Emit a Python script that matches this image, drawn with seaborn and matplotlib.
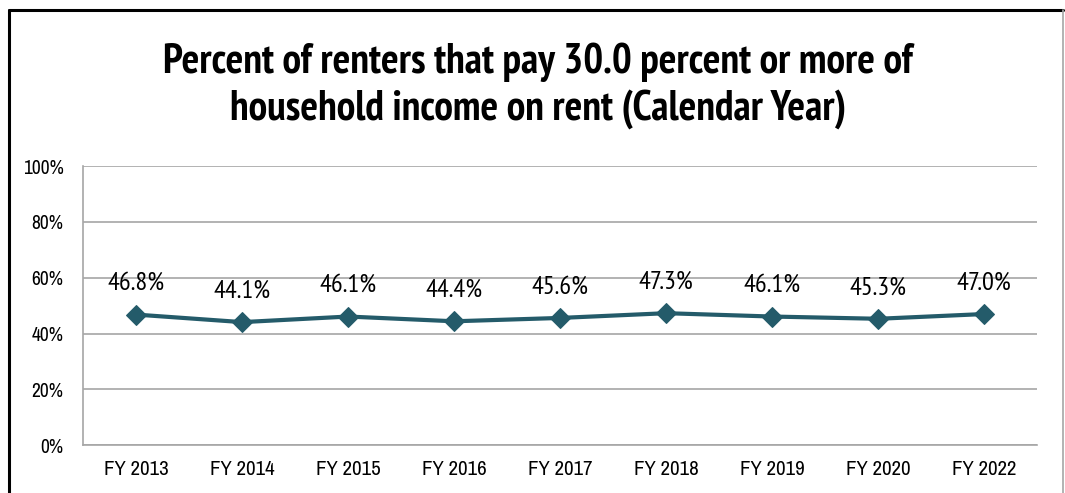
import matplotlib
matplotlib.use('Agg')
import matplotlib.pyplot as plt
import matplotlib.ticker as mtick
from matplotlib import font_manager as fm
from matplotlib.lines import Line2D
import pandas as pd
import seaborn as sns

years = ['FY 2013', 'FY 2014', 'FY 2015', 'FY 2016', 'FY 2017',
         'FY 2018', 'FY 2019', 'FY 2020', 'FY 2022']
pct = [46.8, 44.1, 46.1, 44.4, 45.6, 47.3, 46.1, 45.3, 47.0]

df = pd.DataFrame({'year': years, 'pct': pct})

installed = {f.name for f in fm.fontManager.ttflist}


def pick(cands, fallback='Liberation Sans'):
    for c in cands:
        if c in installed:
            return c
    return fallback


title_font = pick(['PT Sans Narrow', 'Fira Sans Condensed', 'Roboto Condensed',
                   'Open Sans Condensed', 'Asap Condensed', 'Archivo Narrow'])
label_font = pick(['PT Sans Narrow', 'Fira Sans Condensed', 'Roboto Condensed',
                   'Asap Condensed', 'Archivo Narrow'])
tick_font = pick(['Liberation Sans Narrow', 'Archivo Narrow', 'Roboto Condensed',
                  'PT Sans Narrow', 'Asap Condensed'])

sns.set_style('white')
plt.rcParams['font.family'] = [tick_font, 'DejaVu Sans']
plt.rcParams['text.color'] = 'black'

fig = plt.figure(figsize=(10.65, 4.93), dpi=100)
ax = fig.add_axes([0.078, 0.097, 0.896, 0.566])

sns.lineplot(data=df, x='year', y='pct', ax=ax, color='#245B6A', linewidth=3,
             marker='D', markersize=10, markeredgecolor='#245B6A', sort=False)

for i, v in enumerate(pct):
    ax.annotate(f'{v:.1f}%', (i, v), xytext=(0, 14), textcoords='offset points',
                ha='center', va='bottom', fontsize=19, color='black',
                family=[label_font, 'DejaVu Sans'])

ax.set_ylim(0, 100)
ax.set_xlim(-0.5, len(years) - 0.5)
ax.set_yticks(range(0, 101, 20))
ax.yaxis.set_major_formatter(mtick.PercentFormatter(decimals=0))
ax.grid(axis='y', color='#A6A6A6', linewidth=1.2)
ax.set_axisbelow(True)
ax.set_xlabel('')
ax.set_ylabel('')
ax.tick_params(axis='x', length=0, labelsize=15, colors='black', pad=11)
ax.tick_params(axis='y', length=0, labelsize=14, colors='black', pad=14)
for s in ['top', 'right']:
    ax.spines[s].set_visible(False)
for s in ['left', 'bottom']:
    ax.spines[s].set_color('#A6A6A6')
    ax.spines[s].set_linewidth(1.2)

fig.text(0.505, 0.826, 'Percent of renters that pay 30.0 percent or more of\nhousehold income on rent (Calendar Year)',
         ha='center', va='center', fontsize=30, fontweight='bold', linespacing=1.2,
         family=[title_font, 'DejaVu Sans'])

# outer frame
fig.add_artist(Line2D([0.0085, 0.0085], [0, 0.98], color='black', linewidth=2.2, transform=fig.transFigure))
fig.add_artist(Line2D([0.0085, 0.998], [0.98, 0.98], color='black', linewidth=2.2, transform=fig.transFigure))
fig.add_artist(Line2D([0.998, 0.998], [0, 0.98], color='#A6A6A6', linewidth=1.2, transform=fig.transFigure))

fig.savefig('out.png', dpi=100)
